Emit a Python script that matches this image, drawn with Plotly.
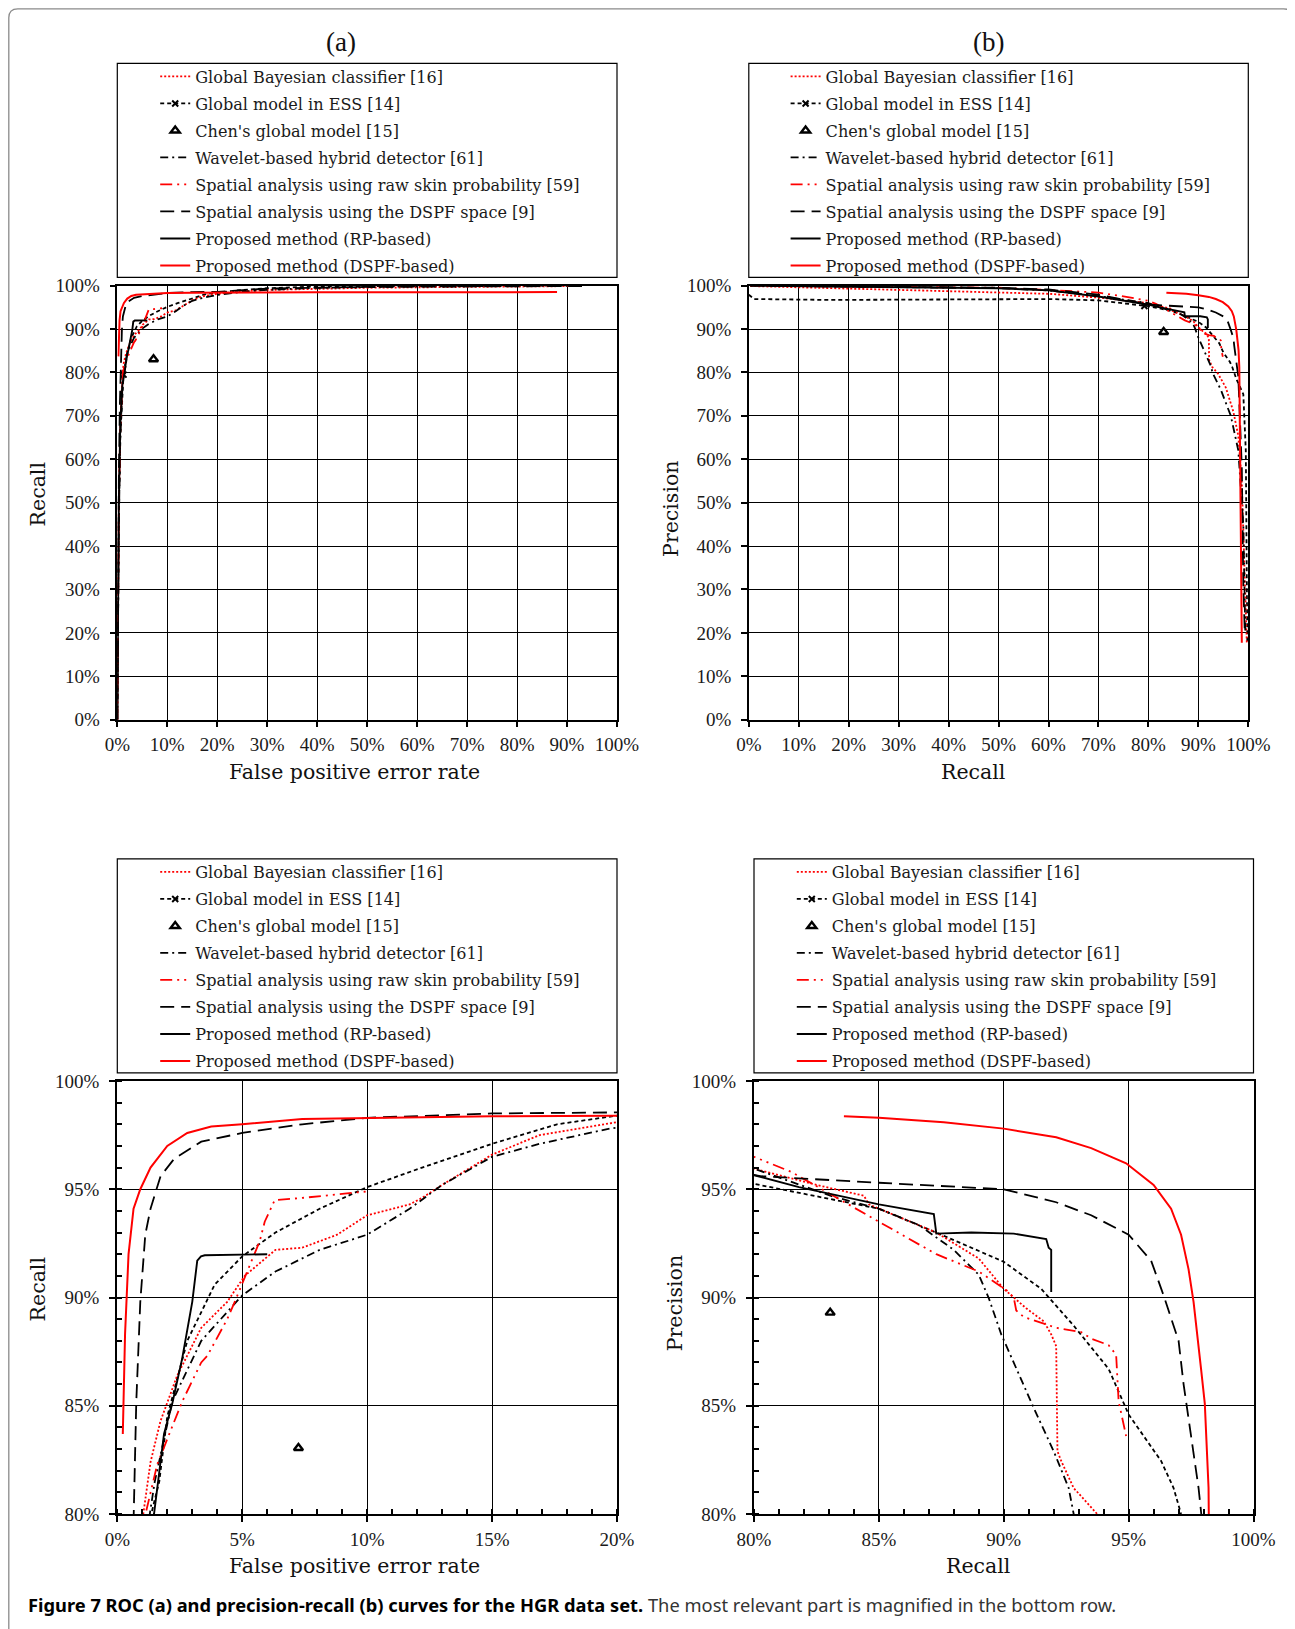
import plotly.graph_objects as go

# Page body adds an 8px margin; design in screen pixels, convert below.
OFF = 8
W, H = 1287, 1621

# ---------------- DATA (values in %) ----------------
# ROC: false positive error rate (x) vs recall (y)
bayes_roc_fpr = [0, 0.1, 0.3, 0.6, 0.85, 1.04, 1.33, 1.73, 2.4, 3.36, 4.4, 5.1, 6.33, 7.4, 8.8, 10, 11.7, 12.2, 13, 15, 16.9, 20, 25, 30, 40, 50, 70, 93]
bayes_roc_rec = [0, 25, 50, 68, 76, 80, 82.4, 84.3, 86.4, 88.6, 89.8, 91.0, 92.2, 92.3, 92.9, 93.8, 94.3, 94.6, 95.2, 96.6, 97.5, 98.1, 98.7, 99.0, 99.3, 99.5, 99.7, 99.9]

ess_roc_fpr = [0, 0.1, 0.3, 0.6, 1.0, 1.25, 1.68, 2.0, 2.8, 3.9, 5, 6.33, 8.1, 10, 12.2, 15, 17.6, 20, 25, 30, 40, 60, 93]
ess_roc_rec = [0, 20, 45, 65, 76, 79.5, 81.5, 84.5, 88, 90.6, 91.9, 93.0, 94.1, 95.1, 96.0, 97.1, 98.0, 98.4, 99.0, 99.4, 99.8, 99.9, 100]
ess_roc_mark_fpr = [1.25]
ess_roc_mark_rec = [79.5]

chen_roc_fpr = [7.25]
chen_roc_rec = [83.05]

wave_roc_fpr = [0, 0.1, 0.3, 0.6, 1.0, 1.3, 1.5, 2.2, 3.36, 5, 6.33, 8.1, 10, 11.7, 13, 15, 16.9, 19.7, 20, 25, 30, 40, 60, 93]
wave_roc_rec = [0, 20, 45, 65, 76, 80, 81.5, 85.2, 88, 90.1, 91.2, 92.2, 92.9, 94.1, 95.2, 96.5, 97.1, 97.8, 97.85, 98.6, 99.0, 99.5, 99.8, 100]

raw_roc_fpr = [0, 0.1, 0.3, 0.6, 0.9, 1.13, 1.6, 2.6, 3.36, 3.6, 4.4, 4.7, 5.25, 5.7, 5.9, 6.3, 7.4, 8.8, 10.0]
raw_roc_rec = [0, 25, 50, 68, 76, 80, 82.3, 85.2, 87.0, 87.3, 89.0, 89.8, 91.35, 92.6, 93.5, 94.5, 94.6, 94.75, 94.9]

dsps_roc_fpr = [0, 0.1, 0.3, 0.5, 0.67, 0.76, 0.92, 1.12, 1.33, 1.73, 2.27, 3.36, 5, 7.4, 10, 15, 20, 30, 50, 93]
dsps_roc_rec = [0, 30, 55, 72, 80, 85.2, 89.8, 92.9, 94.1, 95.6, 96.4, 97.2, 97.6, 98.0, 98.3, 98.5, 98.55, 99.3, 99.7, 99.9]

rp_roc_fpr = [0, 0.1, 0.3, 0.6, 1.0, 1.47, 1.87, 2.2, 2.6, 3.0, 3.2, 3.35, 3.5, 6.0]
rp_roc_rec = [0, 25, 50, 68, 77, 80, 83.7, 85.1, 87.2, 89.8, 91.7, 91.9, 91.95, 92.0]

dspf_roc_fpr = [0.22, 0.31, 0.45, 0.65, 0.92, 1.33, 2.0, 2.8, 3.76, 5, 7.4, 10, 15, 20, 40, 60, 88]
dspf_roc_rec = [83.7, 88.3, 92, 94.1, 95, 96, 97, 97.6, 97.9, 98.0, 98.25, 98.3, 98.37, 98.4, 98.45, 98.45, 98.5]

# Precision-recall: recall (x) vs precision (y)
bayes_pr_rec = [0.3, 10, 30.7, 50, 60.3, 71.4, 79.5, 80, 82.5, 84.4, 84.6, 87.3, 89, 90, 90.9, 91.6, 91.9, 92.1, 92.15, 92.3, 92.8, 93.9, 95.5, 97, 98, 98.7, 99.7]
bayes_pr_prec = [99.9, 99.6, 99.0, 98.5, 98.1, 97.1, 96.0, 95.95, 95.2, 94.7, 94.3, 93.0, 91.8, 90.4, 89.5, 88.9, 88.3, 87.75, 82.9, 82.45, 81.2, 79.8, 76.5, 71, 65.4, 54.6, 17.7]

ess_pr_rec = [0, 1.1, 15.9, 45.5, 60.3, 70, 79.2, 80, 85, 87.3, 90, 91.5, 92.8, 94.2, 95, 96.3, 96.8, 97.1, 97.6, 99, 99.5, 99.8]
ess_pr_prec = [97.9, 96.9, 96.7, 96.9, 96.9, 96.6, 95.3, 95.25, 94.1, 93.0, 91.65, 90.4, 88.7, 86.7, 84.6, 82.45, 81.2, 80.0, 78.5, 75, 62, 17.7]
ess_pr_mark_rec = [79.2]
ess_pr_mark_prec = [95.3]

chen_pr_rec = [83.05]
chen_pr_prec = [89.3]

wave_pr_rec = [0.3, 20, 50, 60, 70, 80, 83.2, 85, 86.6, 88, 89, 89.4, 89.9, 91.2, 92, 92.6, 92.8, 94.5, 96.5, 98, 99, 99.4]
wave_pr_prec = [100, 99.8, 99.4, 98.9, 97.6, 95.95, 94.65, 94.1, 93.35, 92.2, 91.05, 89.97, 88.3, 84.9, 82.9, 81.2, 80.0, 76, 70, 62, 45, 20]

raw_pr_rec = [0.3, 20, 50, 60, 70, 75, 80, 81.5, 83.2, 85, 87.3, 89, 89.3, 90.1, 90.4, 90.5, 90.8, 92.1, 93.1, 93.5, 94.2, 94.5, 94.6, 94.9]
raw_pr_prec = [100, 99.8, 99.5, 99.0, 98.4, 97.5, 96.5, 95.8, 94.7, 93.5, 92.0, 91.2, 90.97, 90.35, 90.0, 89.4, 89.1, 88.6, 88.4, 88.1, 87.8, 87.35, 85.2, 83.6]

dsps_pr_rec = [0.3, 20, 50, 60, 70, 80.3, 85, 90, 92.1, 93.5, 95, 95.9, 96.4, 97, 97.2, 97.5, 97.8, 98, 98.7, 99, 99.3]
dsps_pr_prec = [100, 99.8, 99.5, 99.1, 97.9, 95.6, 95.3, 95.0, 94.4, 93.8, 92.9, 91.7, 90.1, 88, 86, 83.7, 81.2, 79, 58, 31, 20]

rp_pr_rec = [0.3, 20, 50, 60, 70, 79.5, 80, 81.8, 85, 87.2, 87.3, 88.7, 90.4, 91.7, 91.8, 91.9, 91.9]
rp_pr_prec = [100, 99.8, 99.4, 98.9, 97.5, 95.7, 95.65, 95.1, 94.3, 93.85, 92.95, 93.0, 92.95, 92.7, 92.3, 92.2, 90.25]

dspf_pr_rec = [83.6, 85, 87.6, 90, 92.1, 93.5, 94.9, 96, 96.7, 97.1, 97.4, 97.6, 97.9, 98.05, 98.2, 98.4, 98.7]
dspf_pr_prec = [98.37, 98.3, 98.1, 97.8, 97.4, 96.9, 96.2, 95.2, 94.1, 92.9, 91.3, 89.8, 86.7, 85.1, 81.2, 54.6, 17.7]

names = [
    "Global Bayesian classifier [16]",
    "Global model in ESS [14]",
    "Chen's global model [15]",
    "Wavelet-based hybrid detector [61]",
    "Spatial analysis using raw skin probability [59]",
    "Spatial analysis using the DSPF space [9]",
    "Proposed method (RP-based)",
    "Proposed method (DSPF-based)",
]

# ---------------- helpers ----------------
def fx(px):
    return (px - OFF) / W

def fy(py):
    return 1 - (py - OFF) / H

SERIF = "Liberation Serif, Times New Roman, serif"
WSERIF = "DejaVu Serif, serif"
RED = "#ff0000"

styles = {
    "bayes": dict(color=RED, width=1.8, dash="2px,2px"),
    "ess": dict(color="black", width=1.8, dash="4px,3px"),
    "wave": dict(color="black", width=1.8, dash="8px,4px,2px,4px"),
    "raw": dict(color=RED, width=1.8, dash="12px,5px,2px,5px,2px,5px"),
    "dsps": dict(color="black", width=1.8, dash="14px,7px"),
    "rp": dict(color="black", width=1.9),
    "dspf": dict(color=RED, width=2.0),
}

fig = go.Figure()

panels = [
    ("x", "y", "legend", "roc"),
    ("x2", "y2", "legend2", "pr"),
    ("x3", "y3", "legend3", "roc"),
    ("x4", "y4", "legend4", "pr"),
]

roc = dict(
    bayes=(bayes_roc_fpr, bayes_roc_rec), ess=(ess_roc_fpr, ess_roc_rec),
    ess_mark=(ess_roc_mark_fpr, ess_roc_mark_rec), chen=(chen_roc_fpr, chen_roc_rec),
    wave=(wave_roc_fpr, wave_roc_rec), raw=(raw_roc_fpr, raw_roc_rec),
    dsps=(dsps_roc_fpr, dsps_roc_rec), rp=(rp_roc_fpr, rp_roc_rec),
    dspf=(dspf_roc_fpr, dspf_roc_rec),
)
pr = dict(
    bayes=(bayes_pr_rec, bayes_pr_prec), ess=(ess_pr_rec, ess_pr_prec),
    ess_mark=(ess_pr_mark_rec, ess_pr_mark_prec), chen=(chen_pr_rec, chen_pr_prec),
    wave=(wave_pr_rec, wave_pr_prec), raw=(raw_pr_rec, raw_pr_prec),
    dsps=(dsps_pr_rec, dsps_pr_prec), rp=(rp_pr_rec, rp_pr_prec),
    dspf=(dspf_pr_rec, dspf_pr_prec),
)

order = ["bayes", "ess_mark", "chen", "wave", "raw", "dsps", "rp", "dspf"]
for pi, (xa, ya, lg, kind) in enumerate(panels):
    d = roc if kind == "roc" else pr
    common = dict(xaxis=xa, yaxis=ya, legend=lg)
    fig.add_trace(go.Scatter(x=d["ess"][0], y=d["ess"][1], mode="lines",
                             line=styles["ess"], showlegend=False, hoverinfo="skip", **common))
    for rank, key in enumerate(order):
        name = names[rank]
        grp = dict(legendrank=rank + 1, legendgroup=f"p{pi}_{key}")
        if key == "ess_mark":
            fig.add_trace(go.Scatter(x=d[key][0], y=d[key][1], mode="lines+markers", name=name,
                                     line=styles["ess"],
                                     marker=dict(symbol="x-thin-open", size=6, color="black",
                                                 line=dict(width=2, color="black")),
                                     **grp, **common))
        elif key == "chen":
            fig.add_trace(go.Scatter(x=d[key][0], y=d[key][1], mode="markers", name=name,
                                     marker=dict(symbol="triangle-up-open", size=8, color="black",
                                                 line=dict(width=2.4, color="black")),
                                     **grp, **common))
        else:
            fig.add_trace(go.Scatter(x=d[key][0], y=d[key][1], mode="lines", name=name,
                                     line=styles[key], **grp, **common))

# ---------------- axes ----------------
TOP = (285.6, 719.7)
BOT = (1081, 1514)
dom = {
    "1": ((117.3, 617.0), TOP),
    "2": ((748.8, 1248.3), TOP),
    "3": ((117.3, 617.0), BOT),
    "4": ((754.0, 1253.5), BOT),
}

tickfont = dict(family=SERIF, size=19, color="#1a1a1a")
titlefont = dict(family=WSERIF, size=20.5, color="#111")

def axis_common():
    return dict(showline=True, linecolor="black", mirror=True, showgrid=True,
                gridcolor="black", gridwidth=1, zeroline=False, ticks="outside",
                ticklen=6, tickcolor="black", tickwidth=1.5, tickfont=tickfont,
                ticksuffix="%", automargin=False, fixedrange=True)

layout_axes = {}
for k, ((x0, x1), (y0, y1)) in dom.items():
    xk = "xaxis" if k == "1" else f"xaxis{k}"
    yk = "yaxis" if k == "1" else f"yaxis{k}"
    xa = axis_common()
    ya = axis_common()
    xa["domain"] = [fx(x0), fx(x1)]
    ya["domain"] = [fy(y1), fy(y0)]
    xa["anchor"] = "y" if k == "1" else f"y{k}"
    ya["anchor"] = "x" if k == "1" else f"x{k}"
    xa["ticklabelstandoff"] = 1
    ya["ticklabelstandoff"] = 6
    if k in ("1", "2"):
        xa.update(range=[0, 100], dtick=10, tick0=0, linewidth=1.5)
        ya.update(range=[0, 100], dtick=10, tick0=0, linewidth=1.5)
    else:
        minor = dict(dtick=1, ticks="inside", ticklen=5, tickcolor="black", tickwidth=1.5, showgrid=False)
        if k == "3":
            xa.update(range=[0, 20], dtick=5, tick0=0)
        else:
            xa.update(range=[80, 100], dtick=5, tick0=80)
        ya.update(range=[80, 100], dtick=5, tick0=80)
        xa.update(minor=minor, linewidth=2.2)
        ya.update(minor=minor, linewidth=2.2)
    layout_axes[xk] = xa
    layout_axes[yk] = ya

# axis titles (screen px centres)
axis_titles = [
    ("False positive error rate", 354.6, 771.6, 0),
    ("Recall", 973.1, 771.6, 0),
    ("False positive error rate", 354.6, 1566.0, 0),
    ("Recall", 978.3, 1566.0, 0),
    ("Recall", 38.4, 494.0, -90),
    ("Precision", 670.9, 509.0, -90),
    ("Recall", 38.4, 1289.0, -90),
    ("Precision", 675.0, 1303.3, -90),
]

# ---------------- legends ----------------
LEG_FS = 16.1
legfont = dict(family=WSERIF, size=LEG_FS, color="#1a1a1a")
item_h = LEG_FS * 1.3 + 3
def legend_at(left_px, top_px):
    return dict(x=fx(left_px), y=fy(top_px), xanchor="left", yanchor="top",
                bgcolor="rgba(0,0,0,0)", borderwidth=0, font=legfont,
                itemwidth=30, tracegroupgap=max(0.0, 27.0 - item_h), traceorder="grouped")

legends = dict(
    legend=legend_at(155.2, 59.5),
    legend2=legend_at(785.6, 59.5),
    legend3=legend_at(155.2, 855.0),
    legend4=legend_at(791.8, 855.0),
)

shapes = []
for (x0, x1), (y0, y1) in [((117.3, 617.0), (63.3, 277.3)), ((748.8, 1248.3), (63.3, 277.3)),
                           ((117.3, 617.0), (858.8, 1072.8)), ((754.0, 1253.5), (858.8, 1072.8))]:
    shapes.append(dict(type="rect", xref="paper", yref="paper", x0=fx(x0), x1=fx(x1),
                       y0=fy(y1), y1=fy(y0), line=dict(color="black", width=1.2),
                       fillcolor="rgba(0,0,0,0)", layer="above"))

# outer rounded frame (open at the bottom)
r = 9
L, R, T = 8.8, 1292.5, 8.8
path = (f"M {fx(L)},{fy(1640)} L {fx(L)},{fy(T + r)} "
        f"Q {fx(L)},{fy(T)} {fx(L + r)},{fy(T)} "
        f"L {fx(R - r)},{fy(T)} Q {fx(R)},{fy(T)} {fx(R)},{fy(T + r)} "
        f"L {fx(R)},{fy(1640)}")
shapes.append(dict(type="path", xref="paper", yref="paper", path=path,
                   line=dict(color="#8a8a8a", width=1.3)))

annotations = [
    dict(text="(a)", x=fx(340.6), y=fy(41.5), xref="paper", yref="paper", showarrow=False,
         font=dict(family=SERIF, size=27, color="#111"), xanchor="center", yanchor="middle"),
    dict(text="(b)", x=fx(988.6), y=fy(41.5), xref="paper", yref="paper", showarrow=False,
         font=dict(family=SERIF, size=27, color="#111"), xanchor="center", yanchor="middle"),
    dict(text="<b>Figure 7 ROC (a) and precision-recall (b) curves for the HGR data set.</b> "
              "<span style='color:#333'>The most relevant part is magnified in the bottom row.</span>",
         x=fx(26), y=fy(1604.5), xref="paper", yref="paper", showarrow=False,
         font=dict(family="Noto Sans, Open Sans, sans-serif", size=18.3, color="#000"),
         xanchor="left", yanchor="middle"),
]
for text, px, py, ang in axis_titles:
    annotations.append(dict(text=text, x=fx(px), y=fy(py), xref="paper", yref="paper",
                            showarrow=False, textangle=ang, font=titlefont,
                            xanchor="center", yanchor="middle"))

fig.update_layout(
    width=W, height=H, autosize=False,
    margin=dict(l=0, r=0, t=0, b=0),
    paper_bgcolor="white", plot_bgcolor="white",
    shapes=shapes, annotations=annotations,
    showlegend=True,
    **layout_axes, **legends,
)

fig.write_html("out.html")
